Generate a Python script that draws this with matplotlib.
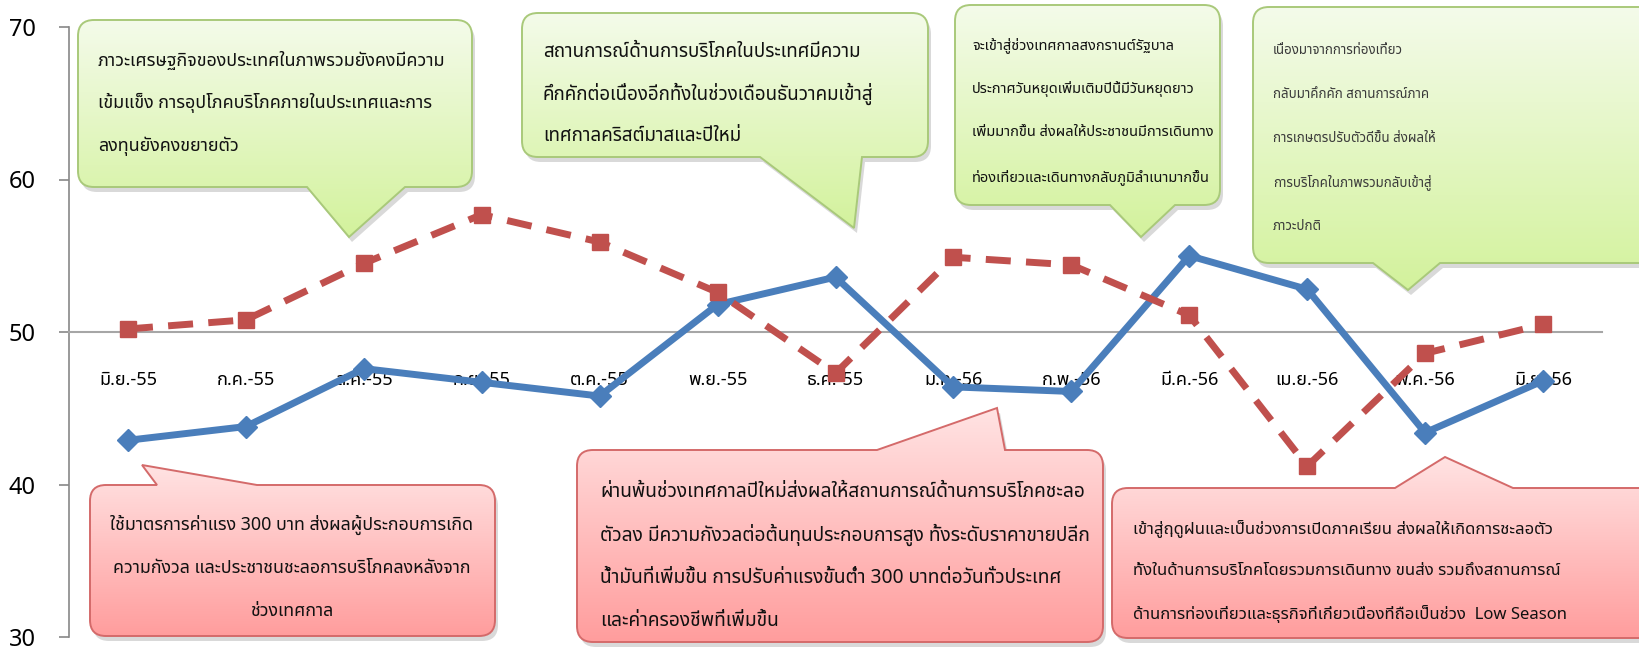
import numpy as np
import matplotlib
matplotlib.use("Agg")
import matplotlib.pyplot as plt
from matplotlib import font_manager
from matplotlib.ft2font import FT2Font
from matplotlib.path import Path
from matplotlib.patches import PathPatch
from matplotlib.colors import LinearSegmentedColormap

# ===============================
# Data
# ===============================
months = ["มิ.ย.-55", "ก.ค.-55", "ส.ค.-55", "ก.ย.-55", "ต.ค.-55", "พ.ย.-55", "ธ.ค.-55",
          "ม.ค.-56", "ก.พ.-56", "มี.ค.-56", "เม.ย.-56", "พ.ค.-56", "มิ.ย.-56"]
blue_vals = [42.9, 43.8, 47.6, 46.7, 45.8, 51.8, 53.6, 46.4, 46.1, 55.0, 52.8, 43.4, 46.8]
red_vals = [50.2, 50.8, 54.5, 57.7, 55.9, 52.6, 47.3, 54.9, 54.4, 51.1, 41.2, 48.6, 50.5]
y_ticks = [30, 40, 50, 60, 70]

green_notes = [
    ["ภาวะเศรษฐกิจของประเทศในภาพรวมยังคงมีความ",
     "เข้มแข็ง การอุปโภคบริโภคภายในประเทศและการ",
     "ลงทุนยังคงขยายตัว"],
    ["สถานการณ์ด้านการบริโภคในประเทศมีความ",
     "คึกคักต่อเนื่องอีกทั้งในช่วงเดือนธันวาคมเข้าสู่",
     "เทศกาลคริสต์มาสและปีใหม่"],
    ["จะเข้าสู่ช่วงเทศกาลสงกรานต์รัฐบาล",
     "ประกาศวันหยุดเพิ่มเติมปีนี้มีวันหยุดยาว",
     "เพิ่มมากขึ้น ส่งผลให้ประชาชนมีการเดินทาง",
     "ท่องเที่ยวและเดินทางกลับภูมิลำเนามากขึ้น"],
    ["เนื่องมาจากการท่องเที่ยว",
     "กลับมาคึกคัก สถานการณ์ภาค",
     "การเกษตรปรับตัวดีขึ้น ส่งผลให้",
     "การบริโภคในภาพรวมกลับเข้าสู่",
     "ภาวะปกติ"],
]
red_notes = [
    ["ใช้มาตรการค่าแรง 300 บาท ส่งผลผู้ประกอบการเกิด",
     "ความกังวล และประชาชนชะลอการบริโภคลงหลังจาก",
     "ช่วงเทศกาล"],
    ["ผ่านพ้นช่วงเทศกาลปีใหม่ส่งผลให้สถานการณ์ด้านการบริโภคชะลอ",
     "ตัวลง มีความกังวลต่อต้นทุนประกอบการสูง ทั้งระดับราคาขายปลีก",
     "น้ำมันที่เพิ่มขึ้น การปรับค่าแรงขั้นต่ำ 300 บาทต่อวันทั่วประเทศ",
     "และค่าครองชีพที่เพิ่มขึ้น"],
    ["เข้าสู่ฤดูฝนและเป็นช่วงการเปิดภาคเรียน ส่งผลให้เกิดการชะลอตัว",
     "ทั้งในด้านการบริโภคโดยรวมการเดินทาง ขนส่ง รวมถึงสถานการณ์",
     "ด้านการท่องเที่ยวและธุรกิจที่เกี่ยวเนื่องที่ถือเป็นช่วง  Low Season"],
]


# find a font that has Thai glyphs
def find_thai_font():
    prefer = ["Noto Sans Thai", "Noto Sans Thai UI", "Noto Sans", "Loma", "Garuda",
              "Tlwg Typo", "Noto Serif Thai"]
    found = {}
    for f in font_manager.fontManager.ttflist:
        if f.name in found:
            continue
        try:
            if 0x0E01 in FT2Font(f.fname).get_charmap():
                found[f.name] = f.fname
        except Exception:
            pass
    for p in prefer:
        if p in found:
            return p
    return next(iter(found), "DejaVu Sans")


thai = find_thai_font()
plt.rcParams["font.family"] = [thai, "DejaVu Sans"]

W, H = 1639, 649
fig = plt.figure(figsize=(W / 100, H / 100), dpi=100)
ax = fig.add_axes([69 / W, 12 / H, (1602 - 69) / W, (637 - 27) / H])

x = np.arange(len(months))
ax.plot(x, blue_vals, color="#4a7ebb", lw=5, marker="D", ms=11, zorder=3)
ax.plot(x, red_vals, color="#c0504d", lw=5, ls=(0, (3.6, 2.2)), marker="s", ms=11, zorder=4)

ax.set_xlim(-0.5, len(months) - 0.5)
ax.set_ylim(30, 70)
ax.set_yticks(y_ticks)
ax.tick_params(axis="y", labelsize=17, length=7, width=1.2, color="#888888", pad=17)
ax.set_xticks(x)
ax.set_xticklabels(months)
ax.tick_params(axis="x", labelsize=13, length=0, pad=28)
for s in ["top", "right"]:
    ax.spines[s].set_visible(False)
ax.spines["left"].set_color("#888888")
ax.spines["left"].set_linewidth(1.2)
ax.spines["bottom"].set_position(("data", 50))
ax.spines["bottom"].set_color("#a6a6a6")
ax.spines["bottom"].set_linewidth(1.5)

# ===============================
# Callout boxes (pixel coords of figure, y down)
# ===============================
ov = fig.add_axes([0, 0, 1, 1], zorder=5)
ov.set_facecolor("none")
ov.axis("off")


def callout_path(x0, y0, x1, y1, side, b0, b1, tip, r=16):
    v = [(x0 + r, y0)]
    c = [Path.MOVETO]
    if side == "top":
        v += [(b0, y0), tip, (b1, y0)]
        c += [Path.LINETO] * 3
    v += [(x1 - r, y0), (x1, y0), (x1, y0 + r), (x1, y1 - r), (x1, y1), (x1 - r, y1)]
    c += [Path.LINETO, Path.CURVE3, Path.CURVE3, Path.LINETO, Path.CURVE3, Path.CURVE3]
    if side == "bottom":
        v += [(b1, y1), tip, (b0, y1)]
        c += [Path.LINETO] * 3
    v += [(x0 + r, y1), (x0, y1), (x0, y1 - r), (x0, y0 + r), (x0, y0), (x0 + r, y0)]
    c += [Path.LINETO, Path.CURVE3, Path.CURVE3, Path.LINETO, Path.CURVE3, Path.CURVE3]
    v.append((x0 + r, y0))
    c.append(Path.CLOSEPOLY)
    return Path(v, c)


def draw_box(path, top_col, bot_col, edge):
    sh = Path(path.vertices + np.array([3, 5]), path.codes)
    ov.add_patch(PathPatch(sh, fc="#000000", ec="none", alpha=0.15))
    patch = PathPatch(path, fc="none", ec=edge, lw=1.4, zorder=3)
    ov.add_patch(patch)
    ext = path.get_extents()
    cmap = LinearSegmentedColormap.from_list("g", [top_col, bot_col])
    im = ov.imshow(np.linspace(0, 1, 256).reshape(-1, 1), cmap=cmap, aspect="auto",
                   extent=(ext.x0, ext.x1, ext.y1, ext.y0), origin="upper", zorder=2)
    im.set_clip_path(patch)


G_TOP, G_BOT, G_EDGE = "#f4fbea", "#d3f29c", "#a9c97a"
R_TOP, R_BOT, R_EDGE = "#ffe3e3", "#ff9d9d", "#d46a6a"

green_boxes = [
    (78, 20, 472, 187, "bottom", 307, 405, (349, 237)),
    (522, 13, 928, 157, "bottom", 760, 862, (854, 228)),
    (955, 5, 1220, 205, "bottom", 1110, 1175, (1141, 237)),
    (1253, 7, 1665, 263, "bottom", 1373, 1440, (1408, 290)),
]
red_boxes = [
    (90, 485, 495, 636, "top", 157, 257, (142, 465)),
    (577, 450, 1103, 642, "top", 877, 1005, (997, 408)),
    (1112, 488, 1665, 638, "top", 1395, 1513, (1445, 457)),
]

for b in green_boxes:
    draw_box(callout_path(*b), G_TOP, G_BOT, G_EDGE)
for b in red_boxes:
    draw_box(callout_path(*b), R_TOP, R_BOT, R_EDGE)

# text placement: (x, first line y, spacing, align, size, colour)
green_text = [(98, 60, 43, "left", 12.9, "#111111"), (543, 52, 42, "left", 13.5, "#111111"),
              (972, 45, 44, "left", 10.5, "#111111"), (1273, 50, 44, "left", 9.6, "#3a3a3a")]
red_text = [(292, 525, 43, "center", 12.8, "#111111"), (600, 492, 43, "left", 13.8, "#111111"),
            (1133, 528, 43, "left", 12.0, "#111111")]

for lines, (tx, ty, sp, ha, fs, col) in zip(green_notes + red_notes, green_text + red_text):
    for i, line in enumerate(lines):
        ov.text(tx, ty + i * sp, line, ha=ha, va="center", fontsize=fs, color=col, zorder=4)

ov.set_xlim(0, W)
ov.set_ylim(H, 0)

fig.savefig("out.png", dpi=100)
